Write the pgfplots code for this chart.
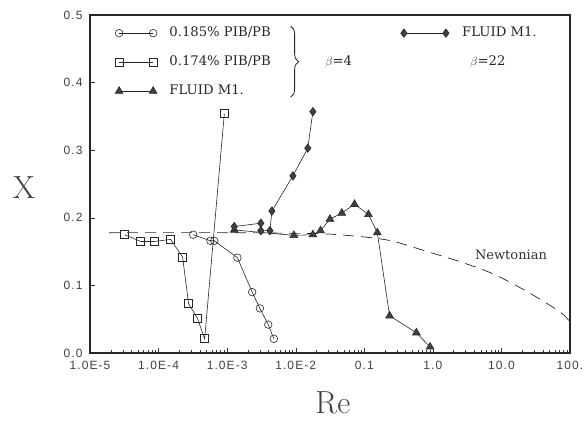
\documentclass[border=0pt]{standalone}
\usepackage{pgfplots}
\pgfplotsset{compat=1.18}
\usepackage{fontspec}
\newfontfamily\tickfont[LetterSpace=9]{Liberation Sans}
\newfontfamily\legfont{DejaVu Serif}
\usetikzlibrary{decorations.pathreplacing}

\pgfplotsset{
  twoends/.style={legend image code/.code={
      \draw[##1,mark=none] (9pt,0pt) -- (25pt,0pt);
      \path[##1] plot coordinates {(0pt,0pt) (34pt,0pt)};
      \path (48pt,0pt);}},
  twoendsw/.style={legend image code/.code={
      \draw[##1,mark=none] (10pt,0pt) -- (32pt,0pt);
      \path[##1] plot coordinates {(0pt,0pt) (42pt,0pt)};
      \path (56pt,0pt);}},
  circ/.style={black!85, line width=0.6pt, mark=o, mark size=3.8pt, mark options={solid, fill=white}},
  sq/.style={black!85, line width=0.6pt, mark=square, mark size=4pt, mark options={solid, fill=white}},
  tri/.style={black!85, line width=0.6pt, mark=triangle*, mark size=4.5pt, mark options={solid, fill=black!75}},
  dia/.style={black!85, line width=0.6pt, mark=diamond*, mark size=4.2pt, mark options={solid, fill=black!75}},
  legbox/.style={draw=none, fill=none, font=\legfont\fontsize{13.2}{15}\selectfont,
      inner sep=0pt, row sep=12pt,
      nodes={inner sep=2pt, text height=10pt, text depth=3pt, black!85}},
}

\begin{document}
\begin{tikzpicture}
\begin{axis}[
    name=ax,
    scale only axis,
    width=480pt, height=338pt,
    xmode=log,
    xmin=1e-5, xmax=100,
    ymin=0, ymax=0.5,
    axis line style={line width=1.1pt, black!85},
    tick pos=left,
    xtick={1e-5,1e-4,1e-3,1e-2,1e-1,1,10,100},
    xticklabels={1.0E-5,1.0E-4,1.0E-3,1.0E-2,0.1,1.0,10.0,100.},
    xticklabel style={yshift=-5pt},
    ytick={0,0.1,0.2,0.3,0.4,0.5},
    yticklabel style={xshift=-4pt,
      /pgf/number format/fixed,/pgf/number format/fixed zerofill,/pgf/number format/precision=1},
    /pgf/number format/assume math mode=true,
    tick label style={font=\tickfont\fontsize{12}{14}\selectfont, black!75},
    tick style={black!80},
    major tick length=5pt, minor tick length=3pt,
    xlabel={Re},
    xlabel style={font=\fontsize{32}{36}\selectfont, black!75, inner sep=0pt,
      at={(axis description cs:0.506,-0.18)}, anchor=base},
    ylabel={X},
    ylabel style={rotate=-90, font=\fontsize{32}{36}\selectfont, black!75, inner sep=0pt,
      at={(axis description cs:-0.1375,0.49)}, anchor=center},
    twoends,
    legend style={legbox, at={(axis description cs:0.052,0.972)}, anchor=north west},
    legend cell align=left,
]
% Newtonian
\addplot[black!85, line width=0.7pt, dash pattern=on 11pt off 7pt, smooth, forget plot] coordinates {
  (1.9e-5,0.178) (1e-3,0.178) (1e-2,0.177) (3e-2,0.176) (0.115,0.171)
  (0.27,0.165) (0.83,0.150) (2.5,0.135) (7.6,0.117) (23.5,0.091) (71,0.061) (100,0.046)};
% 0.185% PIB/PB
\addplot[circ] coordinates {
  (3.2e-4,0.175) (5.7e-4,0.166) (6.5e-4,0.166) (1.41e-3,0.141)
  (2.32e-3,0.090) (3.0e-3,0.066) (3.98e-3,0.042) (4.8e-3,0.021)};
\addlegendentry{0.185\% PIB/PB}
% 0.174% PIB/PB
\addplot[sq] coordinates {
  (3.2e-5,0.175) (5.5e-5,0.165) (8.7e-5,0.165) (1.5e-4,0.168)
  (2.24e-4,0.142) (2.74e-4,0.073) (3.7e-4,0.051) (4.7e-4,0.021) (9.1e-4,0.354)};
\addlegendentry{0.174\% PIB/PB}
% FLUID M1, beta=4
\addplot[tri] coordinates {
  (1.27e-3,0.182) (9.4e-3,0.174) (1.78e-2,0.175) (2.3e-2,0.181)
  (3.16e-2,0.198) (4.7e-2,0.207) (7.2e-2,0.220) (0.115,0.205)
  (0.155,0.178) (0.234,0.055) (0.575,0.030) (0.91,0.009)};
\addlegendentry{FLUID M1.}
% FLUID M1, beta=22
\addplot[dia, forget plot] coordinates {
  (1.27e-3,0.187) (3.1e-3,0.192) (3.1e-3,0.181) (4.2e-3,0.181)
  (4.5e-3,0.210) (9.1e-3,0.262) (1.5e-2,0.303) (1.78e-2,0.357)};

\draw[black!85, line width=0.8pt, decorate, decoration={brace, amplitude=8pt}]
  (axis description cs:0.418,0.967) -- (axis description cs:0.418,0.757);
\node[anchor=west, font=\legfont\fontsize{13.2}{15}\selectfont, black!85]
  at (axis description cs:0.483,0.861) {$\beta$=4};
\node[anchor=west, font=\legfont\fontsize{13.2}{15}\selectfont, black!85]
  at (axis description cs:0.785,0.861) {$\beta$=22};
\node[anchor=center, font=\legfont\fontsize{13}{15}\selectfont, black!80]
  at (axis description cs:0.877,0.290) {Newtonian};
\end{axis}
\begin{axis}[
    scale only axis,
    width=480pt, height=338pt,
    xmode=log, xmin=1e-5, xmax=100, ymin=0, ymax=0.5,
    hide axis,
    twoendsw,
    legend style={legbox, at={(axis description cs:0.647,0.972)}, anchor=north west},
    legend cell align=left,
]
\addlegendimage{dia}
\addlegendentry{FLUID M1.}
\end{axis}
\pgfresetboundingbox
\useasboundingbox ([shift={(-90pt,-71pt)}]ax.south west) rectangle ([shift={(15pt,15pt)}]ax.north east);
\end{tikzpicture}
\end{document}
